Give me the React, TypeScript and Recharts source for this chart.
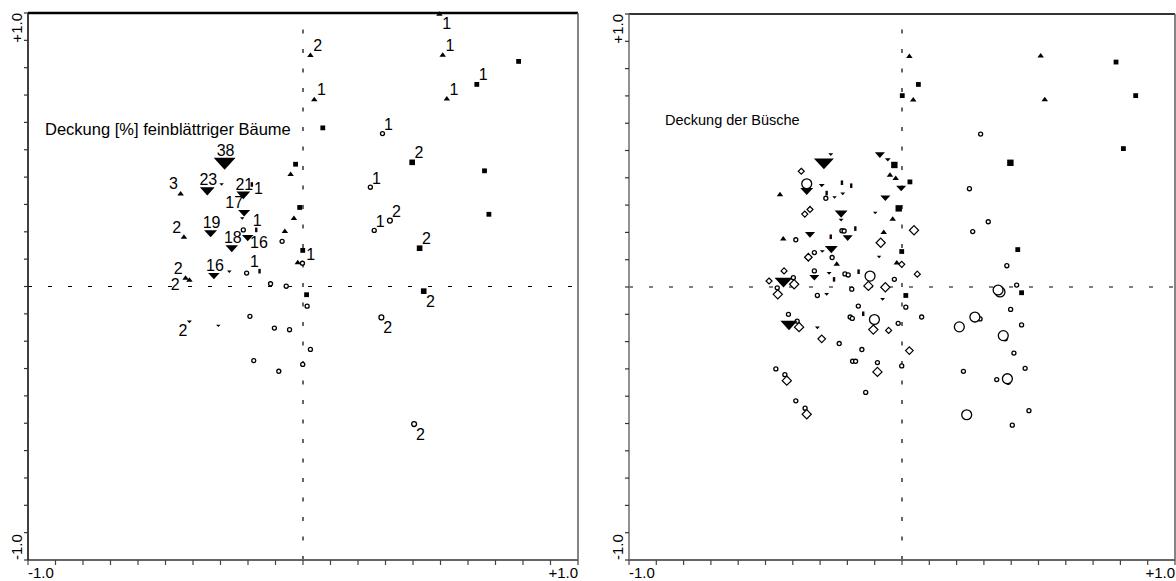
import React from 'react';
import { ScatterChart, Scatter, XAxis, YAxis, ReferenceLine } from 'recharts';

type Pt = { x: number; y: number; n: number; at?: string };

// axis ticks every 0.1, only the ends are labelled
const axisTicks = [
  -1, -0.9, -0.8, -0.7, -0.6, -0.5, -0.4, -0.3, -0.2, -0.1, 0,
  0.1, 0.2, 0.3, 0.4, 0.5, 0.6, 0.7, 0.8, 0.9, 1,
];
const endLabels = ['-1.0', '+1.0'];

const notes = ['Deckung [%] feinblättriger Bäume', 'Deckung der Büsche'];

// ---- left panel: trees ----
const leftDrops: Pt[] = [
  { x: -0.285, y: 0.449, n: 38, at: 'n' },
  { x: -0.348, y: 0.348, n: 23, at: 'n' },
  { x: -0.296, y: 0.373, n: 1 },
  { x: -0.217, y: 0.333, n: 21, at: 'n' },
  { x: -0.214, y: 0.268, n: 17, at: 'nw' },
  { x: -0.221, y: 0.249, n: 1 },
  { x: -0.336, y: 0.193, n: 19, at: 'n' },
  { x: -0.259, y: 0.138, n: 18, at: 'n' },
  { x: -0.201, y: 0.177, n: 16, at: 'e' },
  { x: -0.324, y: 0.038, n: 16, at: 'n' },
  { x: -0.268, y: 0.054, n: 1 },
  { x: -0.413, y: -0.129, n: 2, at: 'sw' },
  { x: -0.308, y: -0.144, n: 1 },
];

const leftPeaks: Pt[] = [
  { x: 0.496, y: 0.998, n: 1, at: 'se' },
  { x: 0.027, y: 0.847, n: 2, at: 'ne' },
  { x: 0.508, y: 0.848, n: 1, at: 'ne' },
  { x: 0.041, y: 0.686, n: 1, at: 'ne' },
  { x: 0.523, y: 0.688, n: 1, at: 'ne' },
  { x: -0.045, y: 0.412, n: 1 },
  { x: -0.445, y: 0.341, n: 3, at: 'nw' },
  { x: -0.033, y: 0.251, n: 1 },
  { x: -0.066, y: 0.204, n: 1 },
  { x: -0.433, y: 0.183, n: 2, at: 'nw' },
  { x: -0.019, y: 0.09, n: 1 },
  { x: -0.427, y: 0.033, n: 2, at: 'nw' },
  { x: -0.413, y: 0.026, n: 2, at: 'w' },
];

const leftBlocks: Pt[] = [
  { x: 0.784, y: 0.823, n: 1 },
  { x: 0.632, y: 0.739, n: 1, at: 'ne' },
  { x: 0.072, y: 0.58, n: 1 },
  { x: 0.397, y: 0.454, n: 2, at: 'ne' },
  { x: 0.66, y: 0.423, n: 1 },
  { x: -0.027, y: 0.447, n: 1 },
  { x: -0.012, y: 0.289, n: 1 },
  { x: 0.676, y: 0.264, n: 1 },
  { x: 0.424, y: 0.14, n: 2, at: 'ne' },
  { x: -0.001, y: 0.132, n: 1, at: 'e' },
  { x: 0.439, y: -0.017, n: 2, at: 'se' },
  { x: 0.013, y: -0.03, n: 1 },
];

const leftSlivers: Pt[] = [
  { x: -0.186, y: 0.373, n: 1, at: 'e' },
  { x: -0.17, y: 0.207, n: 1, at: 'n' },
  { x: -0.158, y: 0.056, n: 1, at: 'nw' },
];

const leftRings: Pt[] = [
  { x: 0.289, y: 0.559, n: 1, at: 'ne' },
  { x: 0.245, y: 0.363, n: 1, at: 'ne' },
  { x: 0.316, y: 0.241, n: 2, at: 'ne' },
  { x: 0.259, y: 0.205, n: 1, at: 'ne' },
  { x: 0.285, y: -0.113, n: 2, at: 'se' },
  { x: 0.404, y: -0.503, n: 2, at: 'se' },
  { x: -0.217, y: 0.207, n: 1 },
  { x: -0.076, y: 0.165, n: 1 },
  { x: -0.002, y: 0.085, n: 1 },
  { x: -0.205, y: 0.049, n: 1 },
  { x: -0.118, y: 0.01, n: 1 },
  { x: -0.061, y: 0.001, n: 1 },
  { x: 0.015, y: -0.072, n: 1 },
  { x: -0.193, y: -0.109, n: 1 },
  { x: -0.104, y: -0.152, n: 1 },
  { x: -0.049, y: -0.158, n: 1 },
  { x: 0.027, y: -0.23, n: 1 },
  { x: -0.179, y: -0.271, n: 1 },
  { x: -0.088, y: -0.31, n: 1 },
  { x: -0.001, y: -0.285, n: 1 },
];

// ---- right panel: shrubs ----
const rightDrops: Pt[] = [
  { x: -0.261, y: 0.485, n: 2 },
  { x: -0.286, y: 0.451, n: 34 },
  { x: -0.081, y: 0.483, n: 13 },
  { x: -0.052, y: 0.466, n: 4 },
  { x: -0.003, y: 0.361, n: 13 },
  { x: -0.349, y: 0.35, n: 19 },
  { x: -0.294, y: 0.371, n: 4 },
  { x: -0.217, y: 0.341, n: 2 },
  { x: -0.247, y: 0.328, n: 1 },
  { x: -0.061, y: 0.325, n: 13 },
  { x: -0.223, y: 0.267, n: 19 },
  { x: -0.223, y: 0.245, n: 2 },
  { x: -0.098, y: 0.271, n: 1 },
  { x: -0.337, y: 0.191, n: 13 },
  { x: -0.199, y: 0.179, n: 13 },
  { x: -0.259, y: 0.137, n: 19 },
  { x: -0.292, y: 0.13, n: 2 },
  { x: -0.084, y: 0.11, n: 1 },
  { x: -0.321, y: 0.034, n: 13 },
  { x: -0.267, y: 0.05, n: 2 },
  { x: -0.434, y: 0.016, n: 30 },
  { x: -0.276, y: -0.027, n: 2 },
  { x: -0.071, y: -0.045, n: 2 },
  { x: -0.414, y: -0.141, n: 28 },
  { x: -0.31, y: -0.15, n: 2 },
];

const rightPeaks: Pt[] = [
  { x: 0.027, y: 0.847, n: 1 },
  { x: 0.508, y: 0.849, n: 1 },
  { x: 0.041, y: 0.688, n: 1 },
  { x: 0.523, y: 0.689, n: 1 },
  { x: -0.044, y: 0.412, n: 1 },
  { x: -0.023, y: 0.4, n: 1 },
  { x: -0.447, y: 0.341, n: 1 },
  { x: -0.034, y: 0.251, n: 1 },
  { x: -0.067, y: 0.202, n: 1 },
  { x: -0.435, y: 0.179, n: 1 },
  { x: -0.239, y: 0.086, n: 1 },
  { x: -0.019, y: 0.091, n: 1 },
];

const rightBlocks: Pt[] = [
  { x: 0.784, y: 0.824, n: 1 },
  { x: 0.06, y: 0.742, n: 1 },
  { x: 0.001, y: 0.701, n: 1 },
  { x: 0.856, y: 0.701, n: 1 },
  { x: 0.811, y: 0.507, n: 1 },
  { x: -0.028, y: 0.447, n: 3 },
  { x: 0.397, y: 0.455, n: 3 },
  { x: 0.029, y: 0.385, n: 1 },
  { x: -0.012, y: 0.288, n: 3 },
  { x: 0.424, y: 0.137, n: 1 },
  { x: -0.001, y: 0.13, n: 1 },
  { x: 0.438, y: -0.021, n: 1 },
  { x: 0.014, y: -0.031, n: 1 },
];

const rightSlivers: Pt[] = [
  { x: -0.22, y: 0.382, n: 1 },
  { x: -0.186, y: 0.371, n: 1 },
  { x: -0.276, y: 0.344, n: 1 },
  { x: -0.171, y: 0.214, n: 1 },
  { x: -0.261, y: 0.184, n: 1 },
  { x: -0.159, y: 0.056, n: 1 },
  { x: -0.249, y: 0.028, n: 1 },
  { x: -0.142, y: -0.098, n: 1 },
];

const rightRings: Pt[] = [
  { x: 0.288, y: 0.56, n: 1 },
  { x: 0.247, y: 0.36, n: 1 },
  { x: 0.316, y: 0.239, n: 1 },
  { x: 0.259, y: 0.203, n: 1 },
  { x: 0.384, y: 0.078, n: 1 },
  { x: 0.42, y: 0.007, n: 1 },
  { x: 0.398, y: -0.082, n: 1 },
  { x: 0.072, y: -0.11, n: 1 },
  { x: 0.286, y: -0.117, n: 1 },
  { x: 0.438, y: -0.139, n: 1 },
  { x: 0.378, y: -0.19, n: 1 },
  { x: 0.41, y: -0.242, n: 1 },
  { x: 0.451, y: -0.298, n: 1 },
  { x: 0.225, y: -0.309, n: 1 },
  { x: 0.347, y: -0.339, n: 1 },
  { x: 0.389, y: -0.349, n: 1 },
  { x: 0.465, y: -0.453, n: 1 },
  { x: 0.404, y: -0.506, n: 1 },
  { x: -0.279, y: 0.325, n: 1 },
  { x: -0.22, y: 0.206, n: 1 },
  { x: -0.212, y: 0.205, n: 1 },
  { x: -0.389, y: 0.173, n: 1 },
  { x: -0.321, y: 0.126, n: 1 },
  { x: -0.256, y: 0.108, n: 1 },
  { x: -0.321, y: 0.059, n: 1 },
  { x: -0.209, y: 0.048, n: 1 },
  { x: -0.197, y: 0.044, n: 1 },
  { x: -0.398, y: 0.034, n: 1 },
  { x: -0.028, y: 0.028, n: 1 },
  { x: -0.457, y: -0.003, n: 1 },
  { x: -0.31, y: -0.031, n: 1 },
  { x: -0.184, y: -0.008, n: 1 },
  { x: 0.014, y: -0.074, n: 1 },
  { x: -0.16, y: -0.07, n: 1 },
  { x: -0.19, y: -0.11, n: 1 },
  { x: -0.182, y: -0.115, n: 1 },
  { x: -0.416, y: -0.1, n: 1 },
  { x: -0.384, y: -0.125, n: 1 },
  { x: -0.014, y: -0.133, n: 1 },
  { x: -0.23, y: -0.207, n: 1 },
  { x: -0.147, y: -0.229, n: 1 },
  { x: -0.181, y: -0.272, n: 1 },
  { x: -0.17, y: -0.272, n: 1 },
  { x: -0.09, y: -0.277, n: 1 },
  { x: -0.001, y: -0.289, n: 1 },
  { x: -0.462, y: -0.3, n: 1 },
  { x: -0.429, y: -0.321, n: 1 },
  { x: -0.133, y: -0.386, n: 1 },
  { x: -0.389, y: -0.417, n: 1 },
  { x: -0.355, y: -0.444, n: 1 },
  // larger rings
  { x: -0.349, y: 0.378, n: 8 },
  { x: -0.117, y: 0.04, n: 8 },
  { x: -0.101, y: -0.119, n: 8 },
  { x: 0.359, y: -0.018, n: 8 },
  { x: 0.352, y: -0.011, n: 8 },
  { x: 0.267, y: -0.11, n: 8 },
  { x: 0.21, y: -0.146, n: 8 },
  { x: 0.371, y: -0.178, n: 8 },
  { x: 0.386, y: -0.336, n: 8 },
  { x: 0.237, y: -0.468, n: 8 },
];

const rightGems: Pt[] = [
  { x: -0.369, y: 0.424, n: 1 },
  { x: -0.356, y: 0.267, n: 1 },
  { x: -0.337, y: 0.284, n: 1 },
  { x: 0.044, y: 0.208, n: 3 },
  { x: -0.078, y: 0.162, n: 3 },
  { x: -0.343, y: 0.109, n: 2 },
  { x: -0.001, y: 0.083, n: 1 },
  { x: -0.432, y: 0.059, n: 1 },
  { x: 0.056, y: 0.047, n: 1 },
  { x: -0.487, y: 0.022, n: 1 },
  { x: -0.395, y: 0.01, n: 3 },
  { x: -0.123, y: 0.004, n: 3 },
  { x: -0.061, y: -0.001, n: 3 },
  { x: -0.455, y: -0.027, n: 3 },
  { x: -0.377, y: -0.147, n: 3 },
  { x: -0.105, y: -0.156, n: 3 },
  { x: -0.049, y: -0.159, n: 1 },
  { x: -0.294, y: -0.19, n: 2 },
  { x: 0.027, y: -0.233, n: 2 },
  { x: -0.09, y: -0.311, n: 3 },
  { x: -0.422, y: -0.343, n: 3 },
  { x: -0.349, y: -0.466, n: 3 },
];

const FONT = '"Liberation Sans", Arial, Helvetica, sans-serif';

// count label placed around a mark
function tag(cx: number, cy: number, p: Pt, hw: number, hh: number) {
  if (!p.at) return null;
  let dx = 0;
  let dy = 0;
  switch (p.at) {
    case 'n': dx = 1; dy = -(hh + 7.5); break;
    case 'ne': dx = hw + 4; dy = -(hh + 7); break;
    case 'nw': dx = -(hw + 4); dy = -(hh + 7); break;
    case 'se': dx = hw + 4; dy = hh + 7.5; break;
    case 'sw': dx = -(hw + 4); dy = hh + 7.5; break;
    case 'e': dx = hw + 5.5; dy = 4; break;
    case 'w': dx = -(hw + 11); dy = 5; break;
  }
  return (
    <text x={cx + dx} y={cy + dy} textAnchor="middle" dominantBaseline="central"
      fontSize={16} fontFamily={FONT} fill="#000">
      {p.n}
    </text>
  );
}

const dropShape = (props: any) => {
  const { cx, cy, payload } = props;
  const w = 4 + 0.47 * payload.n;
  const h = w * 0.55;
  return (
    <g>
      <polygon points={`${cx - w / 2},${cy - h / 2} ${cx + w / 2},${cy - h / 2} ${cx},${cy + h / 2}`} fill="#000" />
      {tag(cx, cy, payload, w / 2, h / 2)}
    </g>
  );
};

const peakShape = (props: any) => {
  const { cx, cy, payload } = props;
  const w = 6.5;
  const h = 4.5;
  return (
    <g>
      <polygon points={`${cx - w / 2},${cy + h / 2} ${cx + w / 2},${cy + h / 2} ${cx},${cy - h / 2}`} fill="#000" />
      {tag(cx, cy, payload, w / 2, h / 2)}
    </g>
  );
};

const blockShape = (props: any) => {
  const { cx, cy, payload } = props;
  const s = 4 + 0.8 * payload.n;
  return (
    <g>
      <rect x={cx - s / 2} y={cy - s / 2} width={s} height={s} fill="#000" />
      {tag(cx, cy, payload, s / 2, s / 2)}
    </g>
  );
};

const sliverShape = (props: any) => {
  const { cx, cy, payload } = props;
  return (
    <g>
      <rect x={cx - 1.2} y={cy - 2.3} width={2.4} height={4.6} fill="#1a0000" />
      {tag(cx, cy, payload, 1.2, 2.3)}
    </g>
  );
};

const ringShape = (props: any) => {
  const { cx, cy, payload } = props;
  const r = 1.6 + 0.42 * payload.n;
  return (
    <g>
      <circle cx={cx} cy={cy} r={r} fill="#fff" stroke="#000" strokeWidth={1.3} />
      {tag(cx, cy, payload, r, r)}
    </g>
  );
};

const gemShape = (props: any) => {
  const { cx, cy, payload } = props;
  const d = 2.2 + 0.8 * payload.n;
  return (
    <polygon points={`${cx},${cy - d} ${cx + d},${cy} ${cx},${cy + d} ${cx - d},${cy}`}
      fill="#fff" stroke="#000" strokeWidth={1.2} />
  );
};

const xTick = (p: any) => {
  const v = p.payload.value;
  if (Math.abs(v) < 0.999) return <g />;
  return (
    <text x={p.x} y={p.y} dy="0.71em" textAnchor={v < 0 ? 'start' : 'end'}
      fontSize={15} fontFamily={FONT} fill="#000">
      {v < 0 ? endLabels[0] : endLabels[1]}
    </text>
  );
};

const yTick = (p: any) => {
  const v = p.payload.value;
  if (Math.abs(v) < 0.999) return <g />;
  return (
    <text x={p.x} y={p.y} transform={`rotate(-90 ${p.x} ${p.y})`} textAnchor={v > 0 ? 'end' : 'start'}
      fontSize={15} fontFamily={FONT} fill="#000">
      {v < 0 ? endLabels[0] : endLabels[1]}
    </text>
  );
};

type Series = { data: Pt[]; shape: (p: any) => React.ReactElement };

type PanelProps = {
  left: number;
  width: number;
  top: number;
  right: number;
  yw: number;
  leftAxis: string;
  topLine: string;
  topWidth: number;
  series: Series[];
  note: string;
  noteX: number;
  noteY: number;
  noteSize: number;
};

function Panel(props: PanelProps) {
  const { left, width, top, right, yw, leftAxis, topLine, topWidth, series, note, noteX, noteY, noteSize } = props;
  return (
    <div style={{ position: 'absolute', left, top: 0, width, height: 581 }}>
      <ScatterChart width={width} height={581} margin={{ top, right, bottom: 0, left: 0 }}>
        <XAxis type="number" dataKey="x" domain={[-1, 1]} ticks={axisTicks} interval={0}
          height={21} tickSize={5} tick={xTick}
          axisLine={{ stroke: '#666', strokeWidth: 2 }} tickLine={{ stroke: '#444', strokeWidth: 1.2 }} />
        <YAxis type="number" dataKey="y" domain={[-1, 1]} ticks={axisTicks} interval={0}
          width={yw} tickSize={4} tick={yTick}
          axisLine={{ stroke: leftAxis, strokeWidth: 1.6 }} tickLine={{ stroke: '#333', strokeWidth: 1.2 }} />
        <ReferenceLine y={1} stroke={topLine} strokeWidth={topWidth} />
        <ReferenceLine x={1} stroke="#666" strokeWidth={1.6} />
        <ReferenceLine x={0} stroke="#000" strokeWidth={1.2} strokeDasharray="4 15.5" />
        <ReferenceLine y={0} stroke="#000" strokeWidth={1.2} strokeDasharray="4 16" />
        {series.map((s, i) => (
          <Scatter key={i} data={s.data} shape={s.shape} isAnimationActive={false} />
        ))}
      </ScatterChart>
      <div style={{ position: 'absolute', left: noteX, top: noteY, fontFamily: FONT, fontSize: noteSize,
        lineHeight: '16px', whiteSpace: 'nowrap', color: '#000' }}>
        {note}
      </div>
    </div>
  );
}

export default function App() {
  return (
    <div style={{ position: 'absolute', left: 0, top: 0, width: 1176, height: 581, background: '#fff', overflow: 'hidden' }}>
      <Panel left={0} width={600} top={13} right={22} yw={28} leftAxis="#111" topLine="#000" topWidth={2.5}
        series={[
          { data: leftRings, shape: ringShape },
          { data: leftBlocks, shape: blockShape },
          { data: leftSlivers, shape: sliverShape },
          { data: leftPeaks, shape: peakShape },
          { data: leftDrops, shape: dropShape },
        ]}
        note={notes[0]} noteX={45} noteY={121} noteSize={16.5} />
      <Panel left={600} width={576} top={14} right={1} yw={29} leftAxis="#777" topLine="#333" topWidth={1.8}
        series={[
          { data: rightRings, shape: ringShape },
          { data: rightGems, shape: gemShape },
          { data: rightBlocks, shape: blockShape },
          { data: rightSlivers, shape: sliverShape },
          { data: rightPeaks, shape: peakShape },
          { data: rightDrops, shape: dropShape },
        ]}
        note={notes[1]} noteX={65} noteY={112} noteSize={14.5} />
    </div>
  );
}
